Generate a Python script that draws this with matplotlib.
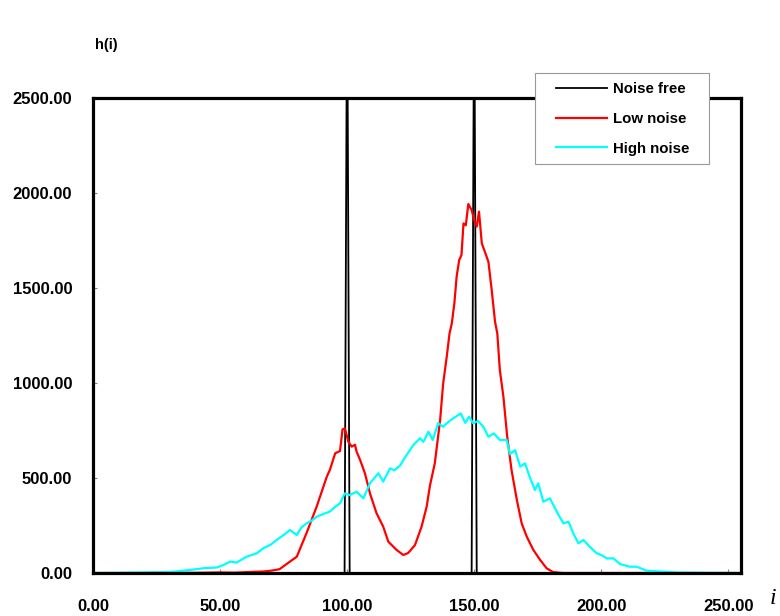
import matplotlib
matplotlib.use('Agg')
import matplotlib.pyplot as plt
from matplotlib.patches import Rectangle

plt.rcParams['font.family'] = ['Liberation Sans', 'DejaVu Sans']

# noise free histogram: two spikes
free_x = [0, 99, 100, 101, 149, 150, 151, 255]
free_y = [0, 0, 3200, 0, 0, 3200, 0, 0]

# low noise
low_x = [0, 20, 30, 40, 50, 56, 61, 67, 70, 73.4, 77.5, 80.2, 84, 88, 92, 93.2, 95.3, 97.2,
         98.2, 99.1, 100.5, 101.8, 103.1, 103.7, 105.1, 107, 109, 111.6, 114.2, 116.2, 119.5,
         122.1, 124, 126.7, 129.3, 131.3, 132.6, 134.5, 136.6, 137.8, 139.2, 140.3, 141.2,
         142.2, 143.1, 144.1, 145, 145.8, 146.7, 147.7, 149, 150, 151, 151.9, 153, 154.2,
         155.6, 156.9, 158.2, 159.1, 160.1, 161.5, 163, 164.7, 166.8, 168.7, 170.7, 173.3,
         176, 178.5, 181, 185, 200, 255]
low_y = [0, 0, 2, 1, 3, 2, 5, 8, 12, 20, 60, 86, 209, 349, 507, 542, 630, 642,
         756, 761, 691, 665, 675, 640, 595, 525, 419, 314, 244, 165, 121,
         95, 105, 147, 244, 349, 460, 577, 805, 998, 1138, 1261, 1314,
         1419, 1560, 1647, 1674, 1840, 1830, 1942, 1910, 1858, 1823, 1902, 1735, 1691,
         1638, 1489, 1323, 1261, 1068, 928, 717, 542, 384, 261, 191, 121,
         68, 25, 5, 0, 0, 0]

# high noise
high_x = [0, 10, 20, 30.3, 34, 38.1, 43.5, 48.7, 51.3, 54, 56.5, 60.5, 64.5, 67, 70, 72.3,
          75, 77.5, 80.2, 82, 84, 86, 88, 90.5, 93.2, 95, 97.2, 99.1, 101.1, 103.7, 106.4,
          109, 112.3, 114.2, 116.9, 118.5, 120.8, 123.4, 126.1, 128.7, 130, 132, 133.7,
          135.8, 137.8, 139.8, 141.8, 144.7, 146.5, 148, 149.6, 151.5, 153.6, 155.6, 157.7,
          160.1, 162.8, 164.1, 166.1, 168.1, 170, 172, 173.9, 175.2, 177.2, 179.8, 182.5,
          185.1, 187.1, 189, 191, 193, 195.5, 198.2, 200, 202.2, 204.8, 207.4, 211.3, 214,
          217.9, 224.4, 231, 240, 255]
high_y = [0, 1, 3, 5, 10, 16, 25, 29, 42, 60, 55, 86, 104, 130, 150, 174,
          200, 226, 200, 240, 261, 275, 296, 310, 323, 345, 367, 419, 410, 428, 393,
          472, 525, 481, 551, 540, 565, 621, 674, 709, 690, 744, 700,
          788, 770, 795, 814, 840, 790, 823, 788, 800, 770, 717, 735,
          700, 700, 625, 647, 560, 577, 500, 437, 472, 375, 393, 323,
          261, 270, 209, 156, 174, 138, 104, 95, 77, 77, 47, 33, 33,
          12, 7, 2, 1, 0]

fig = plt.figure(figsize=(7.8, 6.16), dpi=100)
ax = fig.add_axes([93 / 780, 43 / 616, 648 / 780, 475 / 616])

ax.plot(free_x, free_y, color='black', lw=1.3, label='Noise free')
ax.plot(low_x, low_y, color='red', lw=1.6, label='Low noise')
ax.plot(high_x, high_y, color='cyan', lw=1.6, label='High noise')

ax.set_xlim(0, 255)
ax.set_ylim(0, 2500)
ax.set_xticks([0, 50, 100, 150, 200, 250])
ax.set_yticks([0, 500, 1000, 1500, 2000, 2500])
ax.set_xticklabels(['%.2f' % v for v in ax.get_xticks()])
ax.set_yticklabels(['%.2f' % v for v in ax.get_yticks()])
ax.tick_params(direction='in', length=3, width=0.8, color='gray', labelsize=12)
ax.tick_params(axis='x', pad=19)
ax.tick_params(axis='y', pad=15)
for lab in ax.get_xticklabels() + ax.get_yticklabels():
    lab.set_fontweight('bold')
for s in ax.spines.values():
    s.set_linewidth(2.3)

fig.text(95 / 780, 1 - 45 / 616, 'h(i)', fontsize=10.5, fontweight='bold', va='center')
fig.text(773 / 780, 1 - 598 / 616, 'i', fontsize=17, style='italic',
         family='Liberation Serif', va='center', ha='center')

leg = ax.legend(loc='upper right', bbox_to_anchor=(701 / 780, 1 - 70 / 616),
                bbox_transform=fig.transFigure, frameon=False,
                handlelength=3.4, handletextpad=0.4, labelspacing=1.05,
                borderpad=0.3, prop={'weight': 'bold', 'size': 10.8})
leg.set_zorder(10)

# legend frame with wider side padding
fig.canvas.draw()
bb = leg.get_window_extent().transformed(fig.transFigure.inverted())
padx, pady = 16 / 780, 4 / 616
frame = Rectangle((bb.x0 - padx, bb.y0 - pady), bb.width + 2 * padx, bb.height + 2 * pady,
                  transform=fig.transFigure, facecolor='white', edgecolor='#999999',
                  lw=0.8, zorder=9)
ax.add_artist(frame)
frame.set_clip_on(False)

fig.savefig('out.png', dpi=100)
